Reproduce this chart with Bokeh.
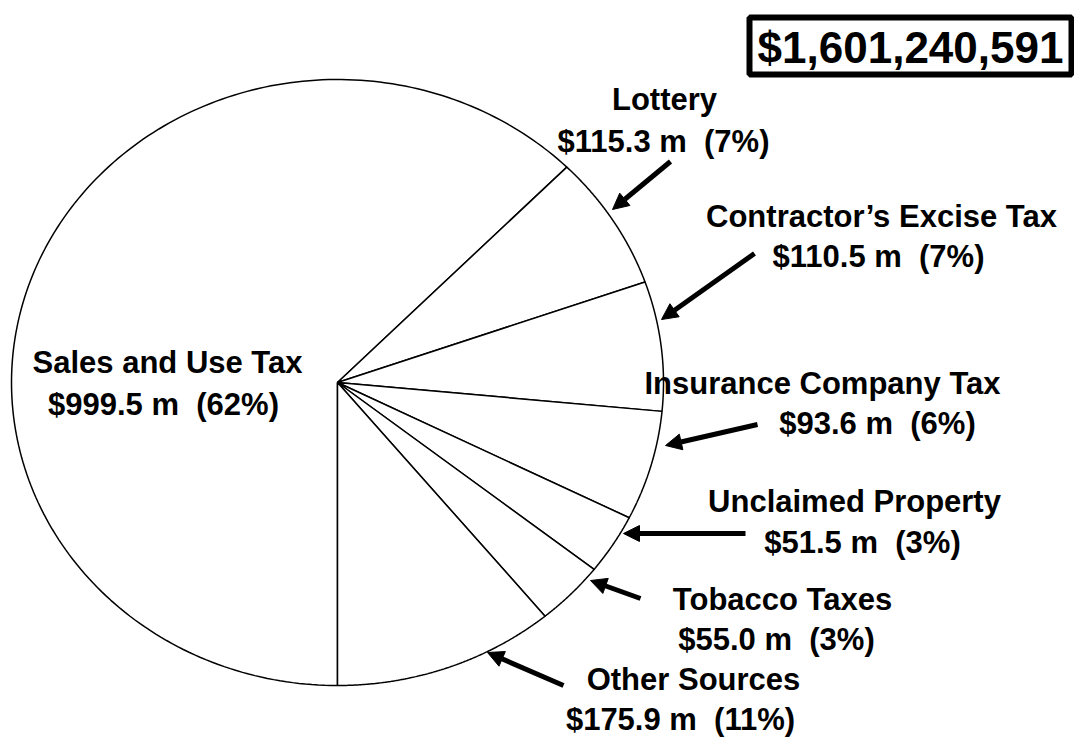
import numpy as np
from bokeh.plotting import figure
from bokeh.models import Range1d, ColumnDataSource, Arrow, NormalHead
from bokeh.core.properties import value
from bokeh.embed import file_html
from bokeh.resources import INLINE

# ---- data ----
names = ["Sales and Use Tax", "Lottery", "Contractor\u2019s Excise Tax",
         "Insurance Company Tax", "Unclaimed Property", "Tobacco Taxes",
         "Other Sources"]
amounts_m = [999.5, 115.3, 110.5, 93.6, 51.5, 55.0, 175.9]
total_dollars = 1601240591

# ---- layout (pixels, y downwards) ----
W, H = 1074, 739
cx, cy, rx, ry = 337, 382, 326, 303
FS = 31          # label font size (px)
FS_TOTAL = 44
label_x1 = [167, 664, 881, 822, 854, 782, 693]
label_x2 = [163, 663, 878, 877, 862, 776, 680]
base_y1 = [373, 110, 227, 394, 512, 610, 690]
base_y2 = [415, 152, 267, 434, 553, 650, 730]
arrow_tail = [None, (670, 161), (754, 253), (757, 424), (745, 533), (640, 598), (563, 685)]
arrow_tip = [None, (612, 209), (661, 319), (665, 445), (623, 533), (590, 580), (487, 652)]
FONT = value("Liberation Sans")

p = figure(width=W, height=H, x_range=Range1d(0, W), y_range=Range1d(H, 0),
           output_backend="svg", toolbar_location=None, min_border=0,
           x_axis_location=None, y_axis_location=None)
p.grid.visible = False
p.outline_line_color = None
p.background_fill_color = "white"
p.border_fill_color = "white"

# ---- pie (elliptical), clockwise from the bottom ----
amounts = np.array(amounts_m)
cum = np.concatenate([[0.0], np.cumsum(amounts) / amounts.sum()])
xs, ys = [], []
for i in range(len(amounts)):
    a0 = np.deg2rad(270 - 360 * cum[i])
    a1 = np.deg2rad(270 - 360 * cum[i + 1])
    t = np.linspace(a0, a1, 200)
    xs.append([cx] + list(cx + rx * np.cos(t)))
    ys.append([cy] + list(cy - ry * np.sin(t)))
p.patches(xs, ys, fill_color="white", line_color="black", line_width=1.5)

# ---- labels ----
pcts = [round(100 * a / amounts.sum()) for a in amounts]
line1 = list(names)
line2 = [f"${a:.1f} m\u00a0 ({pc}%)" for a, pc in zip(amounts_m, pcts)]
mid = 0.36 * FS
tx = label_x1 + label_x2
ty = [b - mid for b in base_y1] + [b - mid for b in base_y2]
src = ColumnDataSource(dict(x=tx, y=ty, t=line1 + line2))
p.text(x="x", y="y", text="t", source=src, text_font=FONT, text_font_style="bold",
       text_font_size=f"{FS}px", text_align="center", text_baseline="middle",
       text_color="black")

# ---- arrows ----
asrc = ColumnDataSource(dict(
    x0=[a[0] for a in arrow_tail if a], y0=[a[1] for a in arrow_tail if a],
    x1=[a[0] for a in arrow_tip if a], y1=[a[1] for a in arrow_tip if a]))
p.add_layout(Arrow(source=asrc, x_start="x0", y_start="y0", x_end="x1", y_end="y1",
                   line_width=5, line_color="black",
                   end=NormalHead(size=16, fill_color="black", line_color="black", line_width=1)))

# ---- total box ----
p.quad(left=[749], right=[1071], top=[17], bottom=[74], fill_color="white",
       line_color="black", line_width=6)
p.text(x=[910], y=[63 - 0.36 * FS_TOTAL], text=[f"${total_dollars:,}"], text_font=FONT,
       text_font_style="bold", text_font_size=f"{FS_TOTAL}px", text_align="center",
       text_baseline="middle", text_color="black")

open("out.html", "w").write(file_html(p, INLINE))
